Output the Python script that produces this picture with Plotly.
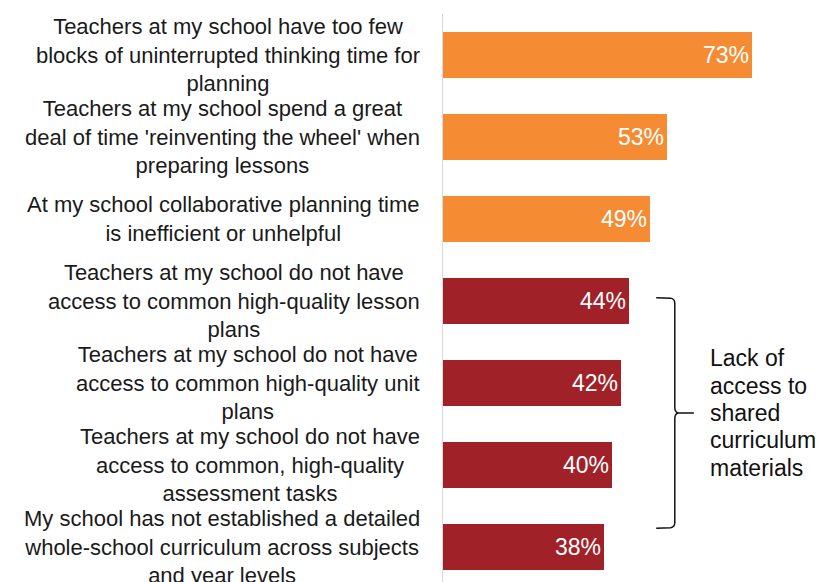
import plotly.graph_objects as go

categories = [
    "Teachers at my school have too few<br>blocks of uninterrupted thinking time for<br>planning",
    "Teachers at my school spend a great<br>deal of time 'reinventing the wheel' when<br>preparing lessons",
    "At my school collaborative planning time<br>is inefficient or unhelpful",
    "Teachers at my school do not have<br>access to common high-quality lesson<br>plans",
    "Teachers at my school do not have<br>access to common high-quality unit<br>plans",
    "Teachers at my school do not have<br>access to common, high-quality<br>assessment tasks",
    "My school has not established a detailed<br>whole-school curriculum across subjects<br>and year levels",
]
values = [73, 53, 49, 44, 42, 40, 38]
groups = ["planning", "planning", "planning", "materials", "materials", "materials", "materials"]
group_colors = {"planning": "#F58C33", "materials": "#A12128"}
bracket_lines = ["Lack of", "access to", "shared", "curriculum", "materials"]

positions = list(range(len(categories)))
colors = [group_colors[g] for g in groups]

# page-level geometry (browser body has an 8px default margin)
PAGE_W, PAGE_H, BODY = 827, 582, 8
W, H = PAGE_W - BODY, PAGE_H - BODY
PLOT_L, PLOT_T = 443, 14          # plot area left/top in page pixels
ML, MT = PLOT_L - BODY, PLOT_T - BODY
px_per_unit = 4.23
plot_w = W - ML
x_max = plot_w / px_per_unit
cat_px = 82.0
plot_h = H - MT
y_bottom = -0.5 + plot_h / cat_px

fig = go.Figure()
fig.add_trace(go.Bar(
    x=values, y=positions, orientation="h",
    marker=dict(color=colors, line=dict(width=0)),
    width=0.56,
    text=[f"{v}%" for v in values],
    textposition="inside", insidetextanchor="end",
    textfont=dict(color="white", size=23, family="Liberation Sans, Arial"),
    cliponaxis=False,
    hoverinfo="skip",
))

annotations = []
for p, label in zip(positions, categories):
    annotations.append(dict(
        xref="paper", yref="y", x=(422 - PLOT_L) / plot_w, y=p,
        xanchor="right", yanchor="middle", align="center",
        text=label, showarrow=False,
        font=dict(size=22, color="#1a1a1a", family="Liberation Sans, Arial"),
    ))

# bracket for the "materials" group
mat_idx = [i for i, g in enumerate(groups) if g == "materials"]
y_top = mat_idx[0] - 0.04
y_bot = mat_idx[-1] - 0.23
y_mid = (y_top + y_bot) / 2
xb0, xb1, xtip = 50.4, 54.8, 59.3
path = (
    f"M {xb0},{y_top} L {xb1-1.0},{y_top+0.005} Q {xb1},{y_top+0.015} {xb1},{y_top+0.07} "
    f"L {xb1},{y_mid-0.07} Q {xb1},{y_mid-0.01} {xb1+0.8},{y_mid} L {xtip},{y_mid} "
    f"M {xb1+0.8},{y_mid} Q {xb1},{y_mid+0.01} {xb1},{y_mid+0.07} "
    f"L {xb1},{y_bot-0.07} Q {xb1},{y_bot-0.015} {xb1-1.0},{y_bot-0.005} L {xb0},{y_bot}"
)
shapes = [dict(type="path", xref="x", yref="y", path=path,
               line=dict(color="#111111", width=1.5))]

n = len(bracket_lines)
for j, line in enumerate(bracket_lines):
    annotations.append(dict(
        xref="x", yref="y", x=(708 - PLOT_L) / px_per_unit, y=y_mid,
        yshift=-(j - (n - 1) / 2) * 27.3,
        xanchor="left", yanchor="middle", align="left",
        text=line, showarrow=False,
        font=dict(size=23, color="#111111", family="Liberation Sans, Arial"),
    ))

fig.update_layout(
    width=W, height=H,
    margin=dict(l=ML, r=0, t=MT, b=0, pad=0),
    paper_bgcolor="white", plot_bgcolor="white",
    showlegend=False,
    bargap=0,
    xaxis=dict(range=[0, x_max], visible=False, fixedrange=True),
    yaxis=dict(range=[y_bottom, -0.5], showticklabels=False, ticks="",
               showgrid=False, zeroline=False,
               showline=True, linecolor="#D9D9D9", linewidth=1, fixedrange=True),
    annotations=annotations,
    shapes=shapes,
    uniformtext=dict(mode="show", minsize=10),
)

fig.write_html("out.html")
